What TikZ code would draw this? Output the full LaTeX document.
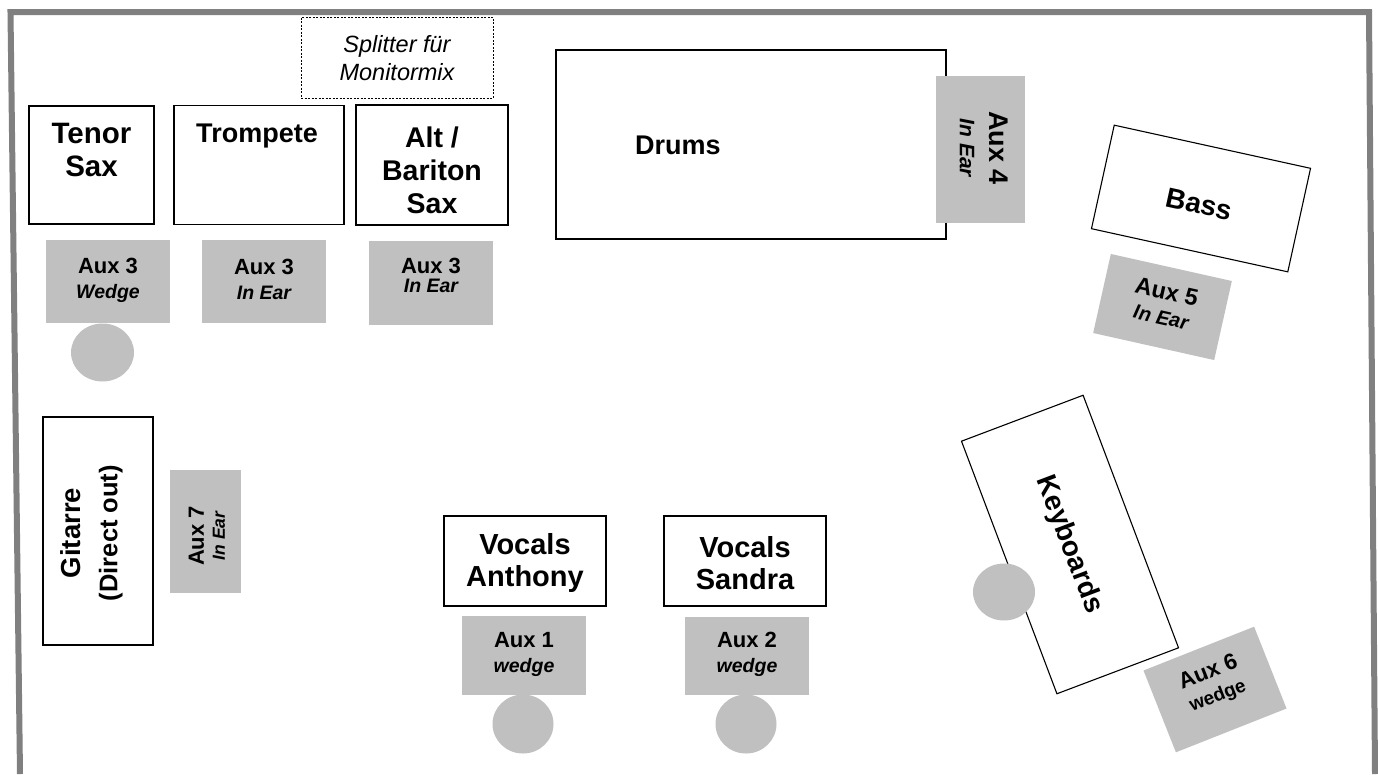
\documentclass[tikz,border=0pt]{standalone}
\usepackage{fontspec}
\setmainfont{Liberation Sans}
\usetikzlibrary{shapes.geometric}
\definecolor{auxgray}{HTML}{C0C0C0}
\definecolor{framegray}{HTML}{808080}
\newcommand\fsz[2]{\fontsize{#1}{#2}\selectfont}
\begin{document}
\begin{tikzpicture}[x=1pt,y=-1pt,
  stagebox/.style={draw=black, line width=1.1pt, fill=white, inner sep=0pt},
  splitbox/.style={draw=black, line width=0.8pt, dash pattern=on 2pt off 1.5pt, inner sep=0pt},
  auxbox/.style={fill=auxgray, inner sep=0pt},
  mic/.style={ellipse, fill=auxgray, inner sep=0pt},
  bigtxt/.style={font=\fsz{27}{32}\bfseries, align=center, inner sep=0pt},
  auxtxt/.style={font=\fsz{22}{25}\bfseries, align=center, inner sep=0pt},
]
\useasboundingbox (0,0) rectangle (1378,774);
% frame
\draw[framegray, line width=6pt, line join=miter] (20,774) -- (10.5,12) -- (1369,12) -- (1375,774);

% splitter
\node[splitbox, minimum width=192pt, minimum height=81pt] (split) at (397,57.5) {};
\node[font=\fsz{23.5}{28}\itshape, align=center, inner sep=0pt] (splitT) at (397,58) {Splitter für\\Monitormix};

% horns
\node[stagebox, minimum width=125pt, minimum height=118pt] (tenor) at (91.5,165) {};
\node[bigtxt, font=\fsz{29.5}{33}\bfseries] (tenorT) at (91.5,150) {Tenor\\Sax};
\node[stagebox, minimum width=170pt, minimum height=119pt] (trp) at (259,165) {};
\node[bigtxt] (trpT) at (257,136) {Trompete};
\node[stagebox, minimum width=152pt, minimum height=120pt] (alt) at (432,165) {};
\node[bigtxt, font=\fsz{28.5}{33}\bfseries] (altT) at (432,170) {Alt /\\Bariton\\Sax};

\node[auxbox, minimum width=124pt, minimum height=83pt] (aux3w) at (108,281.5) {};
\node[auxtxt] (aux3wT) at (108,280) {Aux 3\\{\fsz{19.5}{22}\itshape Wedge}};
\node[mic, minimum width=63pt, minimum height=58pt] (mic3) at (102.5,352.5) {};
\node[auxbox, minimum width=124pt, minimum height=83pt] (aux3t) at (264,281.5) {};
\node[auxtxt] (aux3tT) at (264,279) {Aux 3\\{\fsz{19.5}{22}\itshape In Ear}};
\node[auxbox, minimum width=124pt, minimum height=84pt] (aux3a) at (431,283) {};
\node[auxtxt, font=\fsz{22}{19}\bfseries] (aux3aT) at (431,275) {Aux 3\\{\fsz{19.5}{19}\itshape In Ear}};

% drums
\node[stagebox, minimum width=390pt, minimum height=189pt] (drums) at (751,144.5) {};
\node[bigtxt] (drumsT) at (678,145) {Drums};
\node[auxbox, minimum width=89pt, minimum height=147pt] (aux4) at (980.5,149.5) {};
\node[auxtxt, font=\fsz{27}{30}\bfseries, rotate=-90] (aux4T) at (984,148) {Aux 4\\{\fsz{21}{24}\itshape In Ear}};

% bass
\node[stagebox, minimum width=201pt, minimum height=106pt, rotate=-12.4] (bass) at (1201,198.5) {};
\node[bigtxt, font=\fsz{28}{32}\bfseries, rotate=-12.4] (bassT) at (1199,204) {Bass};
\node[auxbox, minimum width=124pt, minimum height=81pt, rotate=-12.6] (aux5) at (1162.5,307) {};
\node[auxtxt, font=\fsz{23.5}{25}\bfseries, rotate=-12.6] (aux5T) at (1164,304) {Aux 5\\{\fsz{20}{22}\itshape In Ear}};

% keyboards
\node[stagebox, minimum width=270pt, minimum height=130pt, rotate=-69.3] (keys) at (1070,544.5) {};
\node[bigtxt, font=\fsz{28}{32}\bfseries, rotate=-69.3] (keysT) at (1069,545) {Keyboards};
\node[mic, minimum width=62pt, minimum height=57pt] (mickeys) at (1004,592) {};
\node[auxbox, minimum width=119pt, minimum height=88pt, rotate=21.6] (aux6) at (1215,689.5) {};
\node[auxtxt, font=\fsz{22.5}{25}\bfseries, rotate=21.6] (aux6T) at (1213,684) {Aux 6\\{\fsz{19}{22}wedge}};

% guitar
\node[stagebox, minimum width=110pt, minimum height=228pt] (git) at (98,531) {};
\node[bigtxt, font=\fsz{27.5}{37}\bfseries, rotate=90] (gitT) at (91.5,533) {Gitarre\\{\fsz{25.5}{28}(Direct out)}};
\node[auxbox, minimum width=71pt, minimum height=123pt] (aux7) at (205.5,531.5) {};
\node[auxtxt, font=\fsz{22}{21}\bfseries, rotate=90] (aux7T) at (207,536) {Aux 7\\{\fsz{17.5}{21}\itshape In Ear}};

% vocals
\node[stagebox, minimum width=162pt, minimum height=90pt] (voca) at (525,561) {};
\node[bigtxt, font=\fsz{29}{32}\bfseries] (vocaT) at (525,563) {Vocals\\Anthony};
\node[stagebox, minimum width=162pt, minimum height=90pt] (vocs) at (745,561) {};
\node[bigtxt, font=\fsz{29}{32}\bfseries] (vocsT) at (745,563) {Vocals\\Sandra};
\node[auxbox, minimum width=124pt, minimum height=79pt] (aux1) at (524,655.5) {};
\node[auxtxt] (aux1T) at (524,654) {Aux 1\\{\fsz{19.5}{22}\itshape wedge}};
\node[auxbox, minimum width=124pt, minimum height=78pt] (aux2) at (747,656) {};
\node[auxtxt] (aux2T) at (747,654) {Aux 2\\{\fsz{19.5}{22}\itshape wedge}};
\node[mic, minimum width=61pt, minimum height=59pt] (mic1) at (523,724) {};
\node[mic, minimum width=61pt, minimum height=59pt] (mic2) at (746,724) {};
\end{tikzpicture}
\end{document}
